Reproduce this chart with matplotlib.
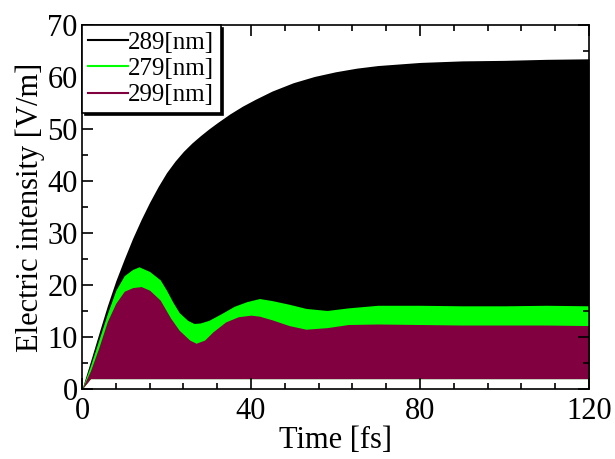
import numpy as np
import matplotlib.pyplot as plt
from matplotlib.lines import Line2D
from matplotlib.ticker import MultipleLocator

plt.rcParams['font.family'] = ['Liberation Serif', 'DejaVu Serif']

# Envelope (peak) of |E| for each wavelength, sampled in time [fs]
t_289 = [0, 2, 4, 6, 8, 10, 12, 14, 16, 18, 20, 22, 24, 26, 28, 30, 32, 35,
         38, 41, 45, 50, 55, 60, 65, 70, 80, 90, 100, 110, 120]
e_289 = [0, 5.3, 10.7, 16.0, 20.8, 25.0, 29.0, 32.6, 35.9, 38.9, 41.6, 43.8,
         45.7, 47.3, 48.7, 50.0, 51.2, 52.9, 54.4, 55.7, 57.3, 58.9, 60.1,
         61.0, 61.7, 62.2, 62.8, 63.1, 63.2, 63.4, 63.5]

t_279 = [0, 2, 4, 6, 8, 10, 12, 13.5, 16, 18.5, 20, 21.5, 23, 25, 26.5, 28,
         30, 33, 36, 39, 42, 45, 49, 53, 58, 63, 70, 80, 90, 100, 110, 120]
e_279 = [0, 4.5, 9.5, 14.5, 19.0, 21.8, 23.0, 23.5, 22.6, 21.0, 19.0, 16.7,
         14.7, 13.2, 12.6, 12.7, 13.2, 14.5, 15.9, 16.8, 17.4, 17.0, 16.3,
         15.5, 15.1, 15.6, 16.1, 16.1, 16.0, 16.0, 16.1, 16.0]

t_299 = [0, 2, 4, 6, 8, 10, 12, 14, 16, 18.5, 21, 23, 25.5, 27, 29, 31, 34,
         37, 40, 42, 45, 49, 53, 58, 63, 70, 80, 90, 100, 110, 120]
e_299 = [0, 3.5, 8.0, 13.0, 16.5, 18.8, 19.5, 19.7, 19.0, 17.1, 13.6, 11.3,
         9.4, 8.8, 9.4, 11.0, 12.9, 13.9, 14.2, 14.0, 13.3, 12.2, 11.5, 11.8,
         12.4, 12.5, 12.4, 12.3, 12.3, 12.3, 12.2]

# lowest level the oscillation stays above (troughs dip below this)
floor_level = 2.0

series = [
    ("289[nm]", t_289, e_289, "#000000"),
    ("279[nm]", t_279, e_279, "#00ff00"),
    ("299[nm]", t_299, e_299, "#800040"),
]

fig = plt.figure(figsize=(6.15, 4.59), dpi=100)
ax = fig.add_axes([82 / 615, 1 - 389 / 459, 507 / 615, 364 / 459])

handles = []
for label, t, e, color in series:
    t = np.array(t)
    e = np.array(e)
    lo = np.minimum(e, floor_level)
    ax.fill_between(t, lo, e, color=color, linewidth=0)
    handles.append(Line2D([], [], color=color, lw=1.5, label=label))

ax.set_xlim(0, 120)
ax.set_ylim(0, 70)
ax.xaxis.set_major_locator(MultipleLocator(40))
ax.xaxis.set_minor_locator(MultipleLocator(8))
ax.yaxis.set_major_locator(MultipleLocator(10))
ax.yaxis.set_minor_locator(MultipleLocator(5))
ax.tick_params(which='both', direction='in', top=True, right=True,
               labelsize=22, width=1.2)
ax.tick_params(axis='x', pad=6)
ax.tick_params(axis='y', pad=3)
ax.tick_params(which='major', length=8)
ax.tick_params(which='minor', length=4)
for sp in ax.spines.values():
    sp.set_linewidth(1.2)

ax.set_xlabel("Time [fs]", fontsize=22, labelpad=0)
ax.set_ylabel("Electric intensity [V/m]", fontsize=22, labelpad=2)

leg = ax.legend(handles=handles, loc='upper left', fontsize=18,
                borderaxespad=0, borderpad=0.25, handlelength=1.6,
                handletextpad=0.0, labelspacing=0.15, fancybox=False,
                shadow={'color': 'black', 'alpha': 1})
leg.get_frame().set_edgecolor('black')
leg.get_frame().set_linewidth(1.2)
leg.get_frame().set_alpha(1)

fig.savefig("out.png", dpi=100)
